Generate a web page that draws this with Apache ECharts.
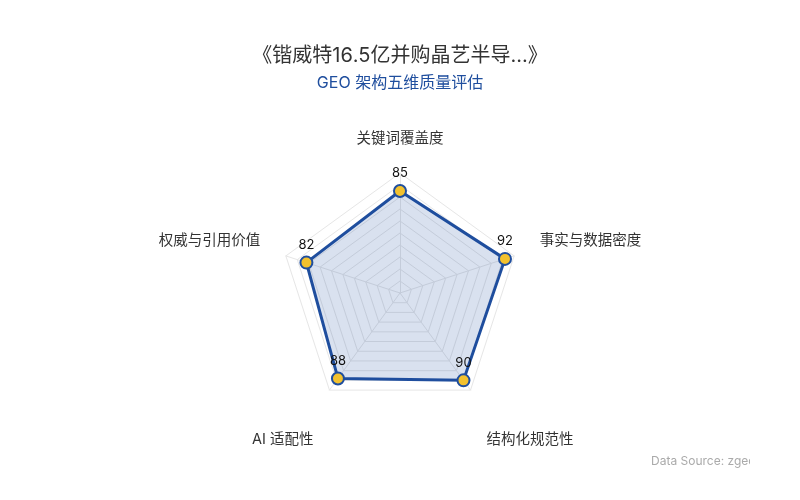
<!DOCTYPE html>
<html>
<head>
<meta charset="utf-8">
<script src="https://cdn.jsdelivr.net/npm/echarts@6/dist/echarts.min.js"></script>
<style>
  html, body { margin: 0; padding: 0; background: #fff; }
  #main { width: 800px; height: 500px; }
</style>
</head>
<body>
<div id="main"></div>
<script>
// counter-clockwise from the top, as echarts lays out radar axes
var indicatorNames = ['关键词覆盖度', '权威与引用价值', 'AI 适配性', '结构化规范性', '事实与数据密度'];
var indicatorMax = [100, 100, 100, 100, 100];
var scores = [85, 82, 88, 90, 92];

var titleText = '《锴威特16.5亿并购晶艺半导...》';
var subText = 'GEO 架构五维质量评估';
var sourceText = 'Data Source: zgeo';

var font = 'Inter, "Noto Sans CJK SC", sans-serif';
var blue = '#1f4e9e';

var chart = echarts.init(document.getElementById('main'), null, { renderer: 'canvas' });
chart.setOption({
  animation: false,
  backgroundColor: '#fff',
  textStyle: { fontFamily: font },
  title: {
    text: titleText,
    subtext: subText,
    left: 'center',
    top: 41,
    itemGap: 9,
    textStyle: { fontFamily: font, fontSize: 20, fontWeight: 'normal', color: '#333' },
    subtextStyle: { fontFamily: font, fontSize: 16, color: blue }
  },
  radar: {
    center: ['50%', 293],
    radius: 120,
    startAngle: 90,
    splitNumber: 10,
    shape: 'polygon',
    indicator: indicatorNames.map(function (n, i) { return { name: n, max: indicatorMax[i] }; }),
    axisName: {
      color: '#333', fontSize: 14.5, fontFamily: font, lineHeight: 14,
      formatter: function (name) {
        var i = indicatorNames.indexOf(name);
        if (i === 1 || i === 4) return name + '\n';
        if (i === 2 || i === 3) return '\n\n\n\n' + name;
        return name;
      }
    },
    nameGap: 27,
    axisLine: { lineStyle: { color: '#e6e6e6' } },
    splitLine: { lineStyle: { color: '#e6e6e6' } },
    splitArea: { show: false }
  },
  series: [{
    type: 'radar',
    data: [{
      value: scores,
      name: 'GEO',
      symbol: 'circle',
      symbolSize: 12,
      lineStyle: { color: blue, width: 3 },
      itemStyle: { color: '#f2c12e', borderColor: blue, borderWidth: 2 },
      areaStyle: { color: 'rgba(31,78,158,0.24)' },
      label: { show: true, position: 'top', distance: 4, color: '#111', fontSize: 13, fontFamily: font }
    }]
  }],
  graphic: [
    { type: 'text', left: 651, top: 455, z: 10, style: { text: sourceText, fill: '#aaa', fontSize: 12, fontFamily: font } },
    { type: 'rect', left: 750, top: 450, z: 11, shape: { width: 50, height: 25 }, style: { fill: '#fff' } }
  ]
});
</script>
</body>
</html>
